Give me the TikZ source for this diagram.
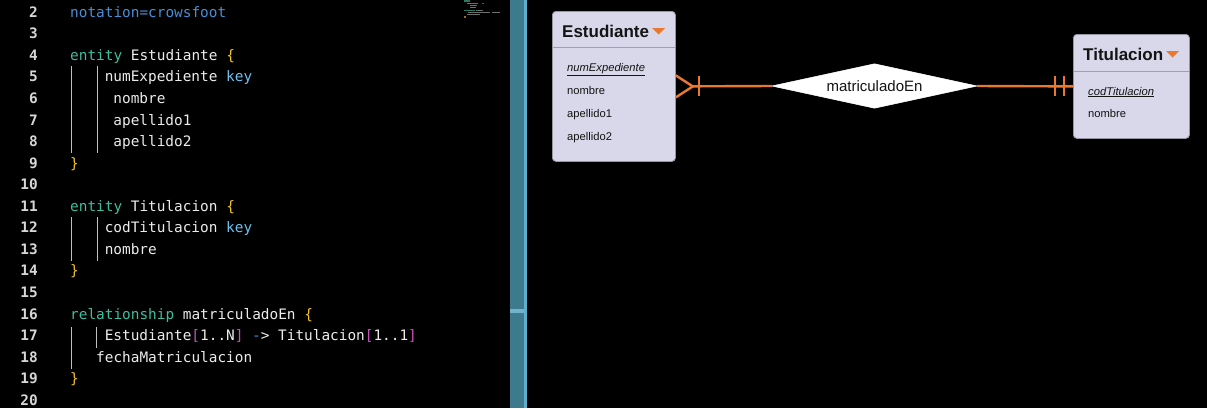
\documentclass[tikz,border=0pt]{standalone}
\usepackage{fontspec}
\setmainfont{Liberation Sans}
\newfontfamily\codefont{DejaVu Sans Mono}
\usetikzlibrary{calc}
\definecolor{bgblack}{RGB}{0,0,0}
\definecolor{cwhite}{RGB}{236,236,236}
\definecolor{cnum}{RGB}{215,215,215}
\definecolor{cblue}{RGB}{72,142,212}
\definecolor{cteal}{RGB}{62,190,160}
\definecolor{cyel}{RGB}{242,196,32}
\definecolor{ckey}{RGB}{112,192,240}
\definecolor{cmag}{RGB}{200,80,190}
\definecolor{carrow}{RGB}{60,140,222}
\definecolor{cguide}{RGB}{190,190,190}
\definecolor{sepbar}{RGB}{62,122,142}
\definecolor{sepedge}{RGB}{92,176,206}
\definecolor{sephandle}{RGB}{112,180,202}
\definecolor{entfill}{RGB}{216,216,234}
\definecolor{entdraw}{RGB}{150,150,162}
\definecolor{entline}{RGB}{160,160,172}
\definecolor{erorange}{RGB}{234,120,46}
\definecolor{mmgrey}{RGB}{110,110,110}
\definecolor{mmteal}{RGB}{40,120,100}
\tikzset{
  lnum/.style={anchor=base east, inner sep=0pt, font=\codefont\bfseries\fontsize{14.4}{16}\selectfont, text=cnum},
  code/.style={anchor=base west, inner sep=0pt, font=\codefont\fontsize{14.4}{16}\selectfont, text=cwhite},
  guide/.style={draw=cguide, line width=0.9pt},
  entbox/.style={draw=entdraw, fill=entfill, line width=0.8pt, rounded corners=3.5pt, anchor=north west, inner sep=0pt},
  enthead/.style={anchor=base west, inner sep=0pt, font=\bfseries\fontsize{17}{20}\selectfont, text=black!92},
  attr/.style={anchor=base west, inner sep=0pt, font=\fontsize{11.2}{13}\selectfont, text=black!92},
  relbox/.style={rectangle, draw=none, inner sep=0pt, minimum width=205pt, minimum height=44pt, font=\fontsize{15}{18}\selectfont, text=black!92},
  relfill/.style={fill=white, draw=white, line width=0.5pt},
  erline/.style={draw=erorange, line width=2.4pt},
  headtri/.style={fill=erorange, draw=none},
  mm/.style={line width=1.3pt}
}
\begin{document}
\begin{tikzpicture}[x=1pt,y=-1pt]
\useasboundingbox (0,0) rectangle (1207,408);
\fill[bgblack] (0,0) rectangle (1207,408);

% ---------- minimap ----------
\draw[mm, mmteal] (464,1) -- (470,1);
\draw[mm, mmgrey] (467,3.5) -- (478,3.5);
\draw[mm, cblue!70!black] (482,3.5) -- (484,3.5);
\draw[mm, mmgrey] (470,5.5) -- (477,5.5);
\draw[mm, mmgrey] (470,7.5) -- (476,7.5);
\draw[mm, mmteal] (464,10.5) -- (475,10.5);
\draw[mm, mmgrey] (476,10.5) -- (483,10.5);
\draw[mm, mmgrey] (468,12.5) -- (490,12.5);
\draw[mm, mmgrey] (492,12.5) -- (500,12.5);
\draw[mm, mmgrey] (467,14.5) -- (480,14.5);
\draw[mm, cyel!60!black] (464,17) -- (466,17);

% ---------- separator ----------
\fill[sepbar] (510,0) rectangle (524,408);
\fill[sepedge] (524,0) rectangle (527,408);
\fill[sephandle] (510,309) rectangle (524,312.5);

% ---------- line numbers ----------
\foreach \n in {2,...,20}{
  \node[lnum] (ln\n) at (38,{17.3+(\n-2)*21.55}) {\n};
}

% ---------- code ----------
\node[code] (c2)  at (70,17.3)   {\textcolor{cblue}{notation=crowsfoot}};
\node[code] (c4)  at (70,60.4)   {\textcolor{cteal}{entity} Estudiante \textcolor{cyel}{\{}};
\node[code] (c5)  at (104.6,81.95) {numExpediente \textcolor{ckey}{key}};
\node[code] (c6)  at (113.25,103.5) {nombre};
\node[code] (c7)  at (113.25,125.05) {apellido1};
\node[code] (c8)  at (113.25,146.6) {apellido2};
\node[code] (c9)  at (70,168.15) {\textcolor{cyel}{\}}};
\node[code] (c11) at (70,211.25) {\textcolor{cteal}{entity} Titulacion \textcolor{cyel}{\{}};
\node[code] (c12) at (104.6,232.8) {codTitulacion \textcolor{ckey}{key}};
\node[code] (c13) at (104.6,254.35) {nombre};
\node[code] (c14) at (70,275.9) {\textcolor{cyel}{\}}};
\node[code] (c16) at (70,319.0) {\textcolor{cteal}{relationship} matriculadoEn \textcolor{cyel}{\{}};
\node[code] (c17) at (104.6,340.55) {Estudiante\textcolor{cmag}{[}1..N\textcolor{cmag}{]} \textcolor{carrow}{-}> Titulacion\textcolor{cmag}{[}1..1\textcolor{cmag}{]}};
\node[code] (c18) at (96,362.1) {fechaMatriculacion};
\node[code] (c19) at (70,383.65) {\textcolor{cyel}{\}}};

% indent guides
\draw[guide] (71,66) -- (71,153);
\draw[guide] (97,66) -- (97,153);
\draw[guide] (71,217) -- (71,261);
\draw[guide] (97,217) -- (97,261);
\draw[guide] (71,327) -- (71,369);
\draw[guide] (96,327) -- (96,348);

% ---------- ER diagram ----------
\node[entbox, minimum width=123pt, minimum height=150pt] (est) at (552,11) {};
\draw[entline, line width=0.8pt] (552,47) -- (675,47);
\node[enthead] (esth) at (562,37) {Estudiante};
\fill[headtri] (652,28) -- (665,28) -- (658.5,34.5) -- cycle;
\node[attr] (esta1) at (567,71) {\underline{\itshape numExpediente}};
\node[attr] (esta2) at (567,94) {nombre};
\node[attr] (esta3) at (567,117) {apellido1};
\node[attr] (esta4) at (567,140) {apellido2};

\node[entbox, minimum width=116pt, minimum height=104pt] (tit) at (1073,34) {};
\draw[entline, line width=0.8pt] (1073,71) -- (1189,71);
\node[enthead] (tith) at (1083,60) {Titulacion};
\fill[headtri] (1166,51) -- (1179,51) -- (1172.5,57.5) -- cycle;
\node[attr] (tita1) at (1088,95) {\underline{\itshape codTitulacion}};
\node[attr] (tita2) at (1088,117) {nombre};

\node[relbox] (rel) at (874.5,86) {};
\filldraw[relfill] (rel.west) -- (rel.north) -- (rel.east) -- (rel.south) -- cycle;
\node[relbox] (reltext) at (rel.center) {matriculadoEn};

% connectors
\draw[erline, shorten <=17pt] (est.east) -- (rel.west);
\draw[erline] ($(est.east)+(0,-11)$) -- ($(est.east)+(17,0)$) -- ($(est.east)+(0,11)$);
\draw[erline] ($(est.east)+(23,-10)$) -- ($(est.east)+(23,10)$);
\draw[erline] (rel.east) -- (tit.west);
\draw[erline] ($(tit.west)+(-18,-10)$) -- ($(tit.west)+(-18,10)$);
\draw[erline] ($(tit.west)+(-9,-10)$) -- ($(tit.west)+(-9,10)$);
\end{tikzpicture}
\end{document}
